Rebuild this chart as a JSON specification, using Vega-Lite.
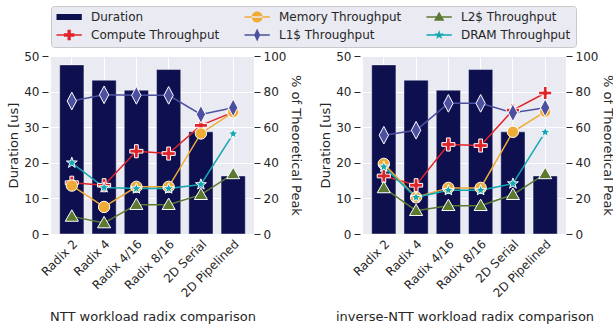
{
  "$schema": "https://vega.github.io/schema/vega-lite/v6.json",
  "padding": {"left": 7, "top": 5, "right": 0, "bottom": 0},
  "background": "white",
  "config": {
    "font": "DejaVu Sans",
    "view": {"fill": "#eaeaf2", "stroke": null},
    "axis": {
      "domain": false,
      "gridColor": "white",
      "gridWidth": 1,
      "tickColor": "#262626",
      "tickSize": 6,
      "labelColor": "#262626",
      "labelFontSize": 12,
      "titleColor": "#262626",
      "titleFontSize": 13,
      "titleFontWeight": "normal",
      "labelPadding": 3,
      "titlePadding": 3
    },
    "legend": {
      "fillColor": "#eaeaf2",
      "strokeColor": "#c8c8c8",
      "padding": 5,
      "cornerRadius": 3,
      "columnPadding": 24,
      "rowPadding": 5,
      "labelFontSize": 12,
      "labelColor": "#262626",
      "labelFont": "DejaVu Sans",
      "symbolStrokeWidth": 0,
      "symbolOpacity": 1
    }
  },
  "datasets": {
    "d": [
      {"panel": "NTT", "radix": "Radix 2", "metric": "Duration", "value": 47.5},
      {"panel": "NTT", "radix": "Radix 4", "metric": "Duration", "value": 43.2},
      {"panel": "NTT", "radix": "Radix 4/16", "metric": "Duration", "value": 40.4},
      {"panel": "NTT", "radix": "Radix 8/16", "metric": "Duration", "value": 46.2},
      {"panel": "NTT", "radix": "2D Serial", "metric": "Duration", "value": 28.7},
      {"panel": "NTT", "radix": "2D Pipelined", "metric": "Duration", "value": 16.3},
      {"panel": "NTT", "radix": "Radix 2", "metric": "Compute Throughput", "value": 28.8},
      {"panel": "NTT", "radix": "Radix 4", "metric": "Compute Throughput", "value": 27.4},
      {"panel": "NTT", "radix": "Radix 4/16", "metric": "Compute Throughput", "value": 46.5},
      {"panel": "NTT", "radix": "Radix 8/16", "metric": "Compute Throughput", "value": 45.2},
      {"panel": "NTT", "radix": "2D Serial", "metric": "Compute Throughput", "value": 61.0},
      {"panel": "NTT", "radix": "2D Pipelined", "metric": "Compute Throughput", "value": 68.5},
      {"panel": "NTT", "radix": "Radix 2", "metric": "Memory Throughput", "value": 27.2},
      {"panel": "NTT", "radix": "Radix 4", "metric": "Memory Throughput", "value": 15.2},
      {"panel": "NTT", "radix": "Radix 4/16", "metric": "Memory Throughput", "value": 26.5},
      {"panel": "NTT", "radix": "Radix 8/16", "metric": "Memory Throughput", "value": 26.5},
      {"panel": "NTT", "radix": "2D Serial", "metric": "Memory Throughput", "value": 56.5},
      {"panel": "NTT", "radix": "2D Pipelined", "metric": "Memory Throughput", "value": 68.5},
      {"panel": "NTT", "radix": "Radix 2", "metric": "L1$ Throughput", "value": 74.7},
      {"panel": "NTT", "radix": "Radix 4", "metric": "L1$ Throughput", "value": 78.2},
      {"panel": "NTT", "radix": "Radix 4/16", "metric": "L1$ Throughput", "value": 77.9},
      {"panel": "NTT", "radix": "Radix 8/16", "metric": "L1$ Throughput", "value": 77.9},
      {"panel": "NTT", "radix": "2D Serial", "metric": "L1$ Throughput", "value": 67.2},
      {"panel": "NTT", "radix": "2D Pipelined", "metric": "L1$ Throughput", "value": 70.9},
      {"panel": "NTT", "radix": "Radix 2", "metric": "L2$ Throughput", "value": 9.9},
      {"panel": "NTT", "radix": "Radix 4", "metric": "L2$ Throughput", "value": 6.2},
      {"panel": "NTT", "radix": "Radix 4/16", "metric": "L2$ Throughput", "value": 16.5},
      {"panel": "NTT", "radix": "Radix 8/16", "metric": "L2$ Throughput", "value": 16.5},
      {"panel": "NTT", "radix": "2D Serial", "metric": "L2$ Throughput", "value": 22.1},
      {"panel": "NTT", "radix": "2D Pipelined", "metric": "L2$ Throughput", "value": 33.8},
      {"panel": "NTT", "radix": "Radix 2", "metric": "DRAM Throughput", "value": 40.0},
      {"panel": "NTT", "radix": "Radix 4", "metric": "DRAM Throughput", "value": 26.1},
      {"panel": "NTT", "radix": "Radix 4/16", "metric": "DRAM Throughput", "value": 25.5},
      {"panel": "NTT", "radix": "Radix 8/16", "metric": "DRAM Throughput", "value": 25.5},
      {"panel": "NTT", "radix": "2D Serial", "metric": "DRAM Throughput", "value": 27.8},
      {"panel": "NTT", "radix": "2D Pipelined", "metric": "DRAM Throughput", "value": 56.3},
      {"panel": "iNTT", "radix": "Radix 2", "metric": "Duration", "value": 47.5},
      {"panel": "iNTT", "radix": "Radix 4", "metric": "Duration", "value": 43.2},
      {"panel": "iNTT", "radix": "Radix 4/16", "metric": "Duration", "value": 40.4},
      {"panel": "iNTT", "radix": "Radix 8/16", "metric": "Duration", "value": 46.2},
      {"panel": "iNTT", "radix": "2D Serial", "metric": "Duration", "value": 28.7},
      {"panel": "iNTT", "radix": "2D Pipelined", "metric": "Duration", "value": 16.3},
      {"panel": "iNTT", "radix": "Radix 2", "metric": "Compute Throughput", "value": 32.6},
      {"panel": "iNTT", "radix": "Radix 4", "metric": "Compute Throughput", "value": 27.4},
      {"panel": "iNTT", "radix": "Radix 4/16", "metric": "Compute Throughput", "value": 50.3},
      {"panel": "iNTT", "radix": "Radix 8/16", "metric": "Compute Throughput", "value": 49.7},
      {"panel": "iNTT", "radix": "2D Serial", "metric": "Compute Throughput", "value": 69.6},
      {"panel": "iNTT", "radix": "2D Pipelined", "metric": "Compute Throughput", "value": 79.2},
      {"panel": "iNTT", "radix": "Radix 2", "metric": "Memory Throughput", "value": 39.4},
      {"panel": "iNTT", "radix": "Radix 4", "metric": "Memory Throughput", "value": 20.6},
      {"panel": "iNTT", "radix": "Radix 4/16", "metric": "Memory Throughput", "value": 25.9},
      {"panel": "iNTT", "radix": "Radix 8/16", "metric": "Memory Throughput", "value": 25.9},
      {"panel": "iNTT", "radix": "2D Serial", "metric": "Memory Throughput", "value": 57.4},
      {"panel": "iNTT", "radix": "2D Pipelined", "metric": "Memory Throughput", "value": 68.7},
      {"panel": "iNTT", "radix": "Radix 2", "metric": "L1$ Throughput", "value": 55.5},
      {"panel": "iNTT", "radix": "Radix 4", "metric": "L1$ Throughput", "value": 58.3},
      {"panel": "iNTT", "radix": "Radix 4/16", "metric": "L1$ Throughput", "value": 73.4},
      {"panel": "iNTT", "radix": "Radix 8/16", "metric": "L1$ Throughput", "value": 73.4},
      {"panel": "iNTT", "radix": "2D Serial", "metric": "L1$ Throughput", "value": 68.1},
      {"panel": "iNTT", "radix": "2D Pipelined", "metric": "L1$ Throughput", "value": 70.9},
      {"panel": "iNTT", "radix": "Radix 2", "metric": "L2$ Throughput", "value": 25.9},
      {"panel": "iNTT", "radix": "Radix 4", "metric": "L2$ Throughput", "value": 13.1},
      {"panel": "iNTT", "radix": "Radix 4/16", "metric": "L2$ Throughput", "value": 15.9},
      {"panel": "iNTT", "radix": "Radix 8/16", "metric": "L2$ Throughput", "value": 15.9},
      {"panel": "iNTT", "radix": "2D Serial", "metric": "L2$ Throughput", "value": 22.1},
      {"panel": "iNTT", "radix": "2D Pipelined", "metric": "L2$ Throughput", "value": 33.8},
      {"panel": "iNTT", "radix": "Radix 2", "metric": "DRAM Throughput", "value": 37.7},
      {"panel": "iNTT", "radix": "Radix 4", "metric": "DRAM Throughput", "value": 20.6},
      {"panel": "iNTT", "radix": "Radix 4/16", "metric": "DRAM Throughput", "value": 24.6},
      {"panel": "iNTT", "radix": "Radix 8/16", "metric": "DRAM Throughput", "value": 24.6},
      {"panel": "iNTT", "radix": "2D Serial", "metric": "DRAM Throughput", "value": 28.3},
      {"panel": "iNTT", "radix": "2D Pipelined", "metric": "DRAM Throughput", "value": 57.2}
    ]
  },
  "data": {"name": "d"},
  "spacing": 17,
  "hconcat": [
    {
      "width": 203,
      "height": 178,
      "transform": [{"filter": "datum.panel === 'NTT'"}],
      "encoding": {
        "x": {
          "field": "radix", "type": "nominal",
          "sort": ["Radix 2", "Radix 4", "Radix 4/16", "Radix 8/16", "2D Serial", "2D Pipelined"],
          "scale": {"paddingInner": 0.25, "paddingOuter": 0.27},
          "axis": {"title": "NTT workload radix comparison", "labelAngle": -45, "ticks": false, "grid": true, "bandPosition": 0.5, "labelPadding": 4, "titlePadding": 11}
        }
      },
      "layer": [
        {
          "transform": [{"filter": "datum.metric === 'Duration'"}],
          "mark": {"type": "bar", "stroke": "white", "strokeWidth": 0.6, "strokeOpacity": 0.7},
          "encoding": {
            "y": {"field": "value", "type": "quantitative", "scale": {"domain": [0, 50]},
                  "axis": {"title": "Duration [us]", "values": [0, 10, 20, 30, 40, 50], "grid": true, "offset": 3}},
            "color": {
              "field": "metric", "type": "nominal",
              "scale": {
                "domain": ["Duration", "Memory Throughput", "L2$ Throughput", "Compute Throughput", "L1$ Throughput", "DRAM Throughput"],
                "range": ["#0d0f4e", "#f0ab35", "#5b7a30", "#e0252a", "#4c50a0", "#12a7b2"]
              },
              "legend": {"title": null, "orient": "none", "legendX": 0, "legendY": -50, "columns": 3, "direction": "horizontal", "symbolSize": 121, "labelOffset": 23}
            }
          }
        },
        {
          "mark": {"type": "point", "opacity": 0, "filled": true},
          "encoding": {
            "color": {"field": "metric", "type": "nominal"},
            "shape": {
              "field": "metric", "type": "nominal",
              "scale": {
                "domain": ["Duration", "Memory Throughput", "L2$ Throughput", "Compute Throughput", "L1$ Throughput", "DRAM Throughput"],
                "range": [
                  "M-1,-0.55H3.6V0.55H-1Z",
                  "M-1,-0.14H3.6V0.14H-1Z M0.3,0A1,1 0 1,0 2.3,0A1,1 0 1,0 0.3,0Z",
                  "M-1,-0.14H3.6V0.14H-1Z M1.3,-0.95L2.25,0.7H0.35Z",
                  "M-1,-0.14H3.6V0.14H-1Z M1,-0.95H1.6V-0.3H2.25V0.3H1.6V0.95H1V0.3H0.35V-0.3H1Z",
                  "M-1,-0.14H3.6V0.14H-1Z M1.3,-1.2L1.85,0L1.3,1.2L0.75,0Z",
                  "M-1,-0.14H3.6V0.14H-1Z M1.3,-0.9L1.512,-0.291L2.156,-0.278L1.642,0.111L1.829,0.728L1.3,0.36L0.771,0.728L0.958,0.111L0.444,-0.278L1.088,-0.291Z"
                ]
              },
              "legend": {"title": null, "orient": "none", "legendX": 0, "legendY": -50, "columns": 3, "direction": "horizontal", "symbolSize": 121, "labelOffset": 23}
            }
          }
        },
        {
          "transform": [{"filter": "datum.metric !== 'Duration'"}],
          "encoding": {
            "y": {"field": "value", "type": "quantitative", "scale": {"domain": [0, 100]},
                  "axis": {"orient": "right", "title": "% of Theoretical Peak", "values": [0, 20, 40, 60, 80, 100], "grid": false}},
            "color": {"field": "metric", "type": "nominal"}
          },
          "layer": [
            {"mark": {"type": "line", "strokeWidth": 1.5}},
            {"transform": [{"filter": "datum.metric === 'Compute Throughput'"}],
             "mark": {"type": "point", "filled": true, "size": 130, "stroke": "white", "strokeWidth": 1, "opacity": 1, "shape": "M-0.33,-1.15H0.33V-0.33H1.15V0.33H0.33V1.15H-0.33V0.33H-1.15V-0.33H-0.33Z"}},
            {"transform": [{"filter": "datum.metric === 'Memory Throughput'"}],
             "mark": {"type": "point", "filled": true, "size": 130, "stroke": "white", "strokeWidth": 1, "opacity": 1, "shape": "circle"}},
            {"transform": [{"filter": "datum.metric === 'L1$ Throughput'"}],
             "mark": {"type": "point", "filled": true, "size": 130, "stroke": "white", "strokeWidth": 1, "opacity": 1, "shape": "M0,-1.55L0.82,0L0,1.55L-0.82,0Z"}},
            {"transform": [{"filter": "datum.metric === 'L2$ Throughput'"}],
             "mark": {"type": "point", "filled": true, "size": 130, "stroke": "white", "strokeWidth": 1, "opacity": 1, "shape": "M0,-1.15L1.15,0.85H-1.15Z"}},
            {"transform": [{"filter": "datum.metric === 'DRAM Throughput'"}],
             "mark": {"type": "point", "filled": true, "size": 130, "stroke": "white", "strokeWidth": 1, "opacity": 1, "shape": "M0,-1L0.235,-0.324L0.951,-0.309L0.380,0.124L0.588,0.809L0,0.4L-0.588,0.809L-0.380,0.124L-0.951,-0.309L-0.235,-0.324Z"}}
          ]
        }
      ],
      "resolve": {"scale": {"y": "independent"}}
    },
    {
      "width": 203,
      "height": 178,
      "transform": [{"filter": "datum.panel === 'iNTT'"}],
      "encoding": {
        "x": {
          "field": "radix", "type": "nominal",
          "sort": ["Radix 2", "Radix 4", "Radix 4/16", "Radix 8/16", "2D Serial", "2D Pipelined"],
          "scale": {"paddingInner": 0.25, "paddingOuter": 0.27},
          "axis": {"title": "inverse-NTT workload radix comparison", "labelAngle": -45, "ticks": false, "grid": true, "bandPosition": 0.5, "labelPadding": 4, "titlePadding": 11}
        }
      },
      "layer": [
        {
          "transform": [{"filter": "datum.metric === 'Duration'"}],
          "mark": {"type": "bar", "stroke": "white", "strokeWidth": 0.6, "strokeOpacity": 0.7},
          "encoding": {
            "y": {"field": "value", "type": "quantitative", "scale": {"domain": [0, 50]},
                  "axis": {"title": "Duration [us]", "values": [0, 10, 20, 30, 40, 50], "grid": true, "offset": 3}},
            "color": {"field": "metric", "type": "nominal"}
          }
        },
        {
          "transform": [{"filter": "datum.metric !== 'Duration'"}],
          "encoding": {
            "y": {"field": "value", "type": "quantitative", "scale": {"domain": [0, 100]},
                  "axis": {"orient": "right", "title": "% of Theoretical Peak", "values": [0, 20, 40, 60, 80, 100], "grid": false}},
            "color": {"field": "metric", "type": "nominal"}
          },
          "layer": [
            {"mark": {"type": "line", "strokeWidth": 1.5}},
            {"transform": [{"filter": "datum.metric === 'Compute Throughput'"}],
             "mark": {"type": "point", "filled": true, "size": 130, "stroke": "white", "strokeWidth": 1, "opacity": 1, "shape": "M-0.33,-1.15H0.33V-0.33H1.15V0.33H0.33V1.15H-0.33V0.33H-1.15V-0.33H-0.33Z"}},
            {"transform": [{"filter": "datum.metric === 'Memory Throughput'"}],
             "mark": {"type": "point", "filled": true, "size": 130, "stroke": "white", "strokeWidth": 1, "opacity": 1, "shape": "circle"}},
            {"transform": [{"filter": "datum.metric === 'L1$ Throughput'"}],
             "mark": {"type": "point", "filled": true, "size": 130, "stroke": "white", "strokeWidth": 1, "opacity": 1, "shape": "M0,-1.55L0.82,0L0,1.55L-0.82,0Z"}},
            {"transform": [{"filter": "datum.metric === 'L2$ Throughput'"}],
             "mark": {"type": "point", "filled": true, "size": 130, "stroke": "white", "strokeWidth": 1, "opacity": 1, "shape": "M0,-1.15L1.15,0.85H-1.15Z"}},
            {"transform": [{"filter": "datum.metric === 'DRAM Throughput'"}],
             "mark": {"type": "point", "filled": true, "size": 130, "stroke": "white", "strokeWidth": 1, "opacity": 1, "shape": "M0,-1L0.235,-0.324L0.951,-0.309L0.380,0.124L0.588,0.809L0,0.4L-0.588,0.809L-0.380,0.124L-0.951,-0.309L-0.235,-0.324Z"}}
          ]
        }
      ],
      "resolve": {"scale": {"y": "independent"}}
    }
  ]
}
